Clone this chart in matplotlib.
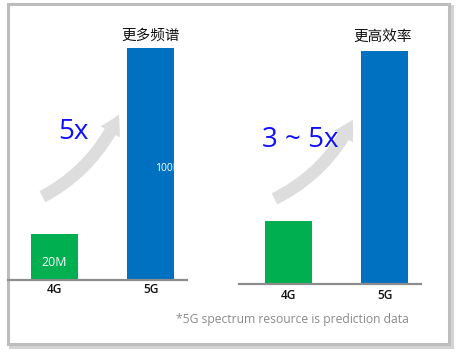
import matplotlib
matplotlib.use("Agg")
import matplotlib.pyplot as plt
from matplotlib.patches import Rectangle, FancyArrowPatch

plt.rcParams['font.family'] = ['Open Sans', 'Noto Sans CJK SC', 'DejaVu Sans']

# ---- data ----
categories = ["4G", "5G"]
spectrum_values = [20, 100]          # MHz
spectrum_labels = ["20M", "100M"]
efficiency_values = [1.0, 3.7]       # relative
left_title = "更多频谱"
right_title = "更高效率"
left_gain = "5x"
right_gain = "3 ~ 5x"
footnote = "*5G spectrum resource is prediction data"

GREEN = "#00B050"
BLUE = "#0070C0"
bar_colors = [GREEN, BLUE]

W, H = 464, 360
fig = plt.figure(figsize=(W / 100, H / 100), dpi=100)

# decoration layer in pixel coordinates (y downwards)
bg = fig.add_axes([0, 0, 1, 1], zorder=0)
bg.set_xlim(0, W)
bg.set_ylim(H, 0)
bg.axis("off")

# frame with shadow
bg.add_patch(Rectangle((10, 6), 442, 341, fill=False, ec="#d4d4d4", lw=2.2))
bg.add_patch(Rectangle((8, 4), 441, 340, fc="white", ec="#bdbdbd", lw=2.2))

# curved gray arrows
for (x0, y0), (x1, y1) in [((40, 198), (120, 112)), ((272, 200), (354, 117))]:
    arr = FancyArrowPatch((x0, y0), (x1, y1),
                          connectionstyle="arc3,rad=0.18",
                          arrowstyle="simple,head_length=14,head_width=16,tail_width=9",
                          fc="#dcdcdc", ec="none", alpha=0.95)
    bg.add_patch(arr)

bg.text(73, 132, left_gain, color="#1010ff", fontsize=20, ha="center", va="center")
bg.text(300, 140, right_gain, color="#1010ff", fontsize=20, ha="center", va="center")

bg.text(151, 36, left_title, fontsize=10.5, ha="center", va="center", color="#111111",
        family=['Noto Sans CJK SC', 'DejaVu Sans'])
bg.text(383, 37, right_title, fontsize=10.5, ha="center", va="center", color="#111111",
        family=['Noto Sans CJK SC', 'DejaVu Sans'])

bg.text(292, 319, footnote, fontsize=8.7, ha="center", va="center", color="#8a8a8a")


def px_axes(left, right, bottom, top):
    return fig.add_axes([left / W, (H - bottom) / H, (right - left) / W, (bottom - top) / H], zorder=2)


def style(ax):
    ax.patch.set_alpha(0)
    for s in ["top", "right", "left"]:
        ax.spines[s].set_visible(False)
    ax.spines["bottom"].set_color("#8c8c8c")
    ax.spines["bottom"].set_linewidth(1.6)
    ax.set_yticks([])
    ax.set_xticks(range(len(categories)))
    ax.set_xticklabels(categories, fontsize=8.5, color="#111111", fontweight="semibold")
    ax.tick_params(axis="x", length=0, pad=2.5)


# left panel: spectrum
axL = px_axes(8, 187, 280, 48)
barsL = axL.bar(range(len(categories)), spectrum_values, width=0.49, color=bar_colors)
axL.set_xlim(-0.484, 1.380)
axL.set_ylim(0, max(spectrum_values))
style(axL)
axL.text(0, spectrum_values[0] * 0.38, spectrum_labels[0], color="white", fontsize=9,
         ha="center", va="center")
t = axL.text(1.05, spectrum_values[1] * 0.48, spectrum_labels[1], color="white", fontsize=7.5,
             ha="left", va="center")
t.set_clip_path(barsL[1])

# right panel: efficiency
axR = px_axes(239, 421, 284, 51)
axR.bar(range(len(categories)), efficiency_values, width=0.49, color=bar_colors)
axR.set_xlim(-0.516, 1.380)
axR.set_ylim(0, max(efficiency_values))
style(axR)
axR.tick_params(axis="x", pad=3.5)

fig.savefig("out.png", dpi=100)
